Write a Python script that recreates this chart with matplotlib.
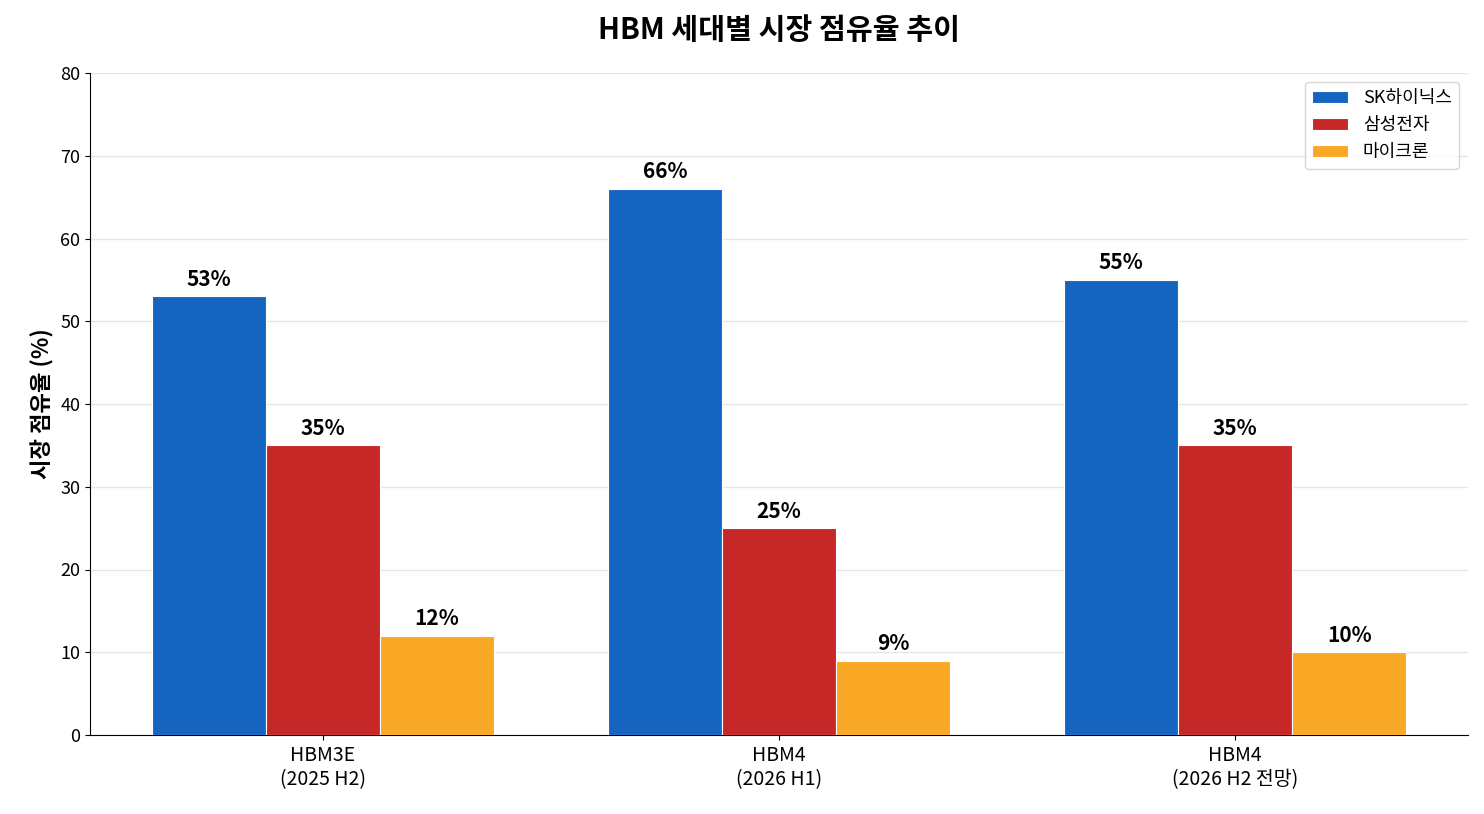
import numpy as np
import matplotlib
matplotlib.use("Agg")
import matplotlib.pyplot as plt

plt.rcParams['font.family'] = ['Noto Sans CJK KR', 'DejaVu Sans']

groups = ["HBM3E\n(2025 H2)", "HBM4\n(2026 H1)", "HBM4\n(2026 H2 전망)"]
companies = ["SK하이닉스", "삼성전자", "마이크론"]
shares = {
    "SK하이닉스": [53, 66, 55],
    "삼성전자": [35, 25, 35],
    "마이크론": [12, 9, 10],
}
colors = ["#1565C0", "#C62828", "#F9A825"]

fig = plt.figure(figsize=(14.84, 8.14), dpi=100)
ax = fig.add_axes([90/1484, 1-735/814, 1378/1484, 662/814])

x = np.arange(len(groups))
w = 0.25
for i, c in enumerate(companies):
    bars = ax.bar(x + (i-1)*w, shares[c], w, color=colors[i], edgecolor="white",
                  linewidth=0.8, label=c, zorder=3)
    for b, v in zip(bars, shares[c]):
        ax.text(b.get_x()+b.get_width()/2, v+0.8, f"{v}%", ha="center", va="bottom",
                fontsize=15, fontweight="bold")

ax.set_xticks(x)
ax.set_xticklabels(groups, fontsize=14)
ax.set_xlim(-0.51, 2.51)
ax.set_ylim(0, 80)
ax.set_yticks(range(0, 81, 10))
ax.tick_params(axis='y', labelsize=13)
ax.set_ylabel("시장 점유율 (%)", fontsize=16, fontweight="bold")
ax.yaxis.grid(True, color="#e6e6e6", linewidth=1, zorder=0)
ax.set_axisbelow(True)
ax.spines['top'].set_visible(False)
ax.spines['right'].set_visible(False)
ax.legend(loc="upper right", fontsize=13)
fig.text(0.525, 1-30/814, "HBM 세대별 시장 점유율 추이", ha="center", va="center",
         fontsize=21, fontweight="bold")

fig.savefig("out.png", dpi=100)
